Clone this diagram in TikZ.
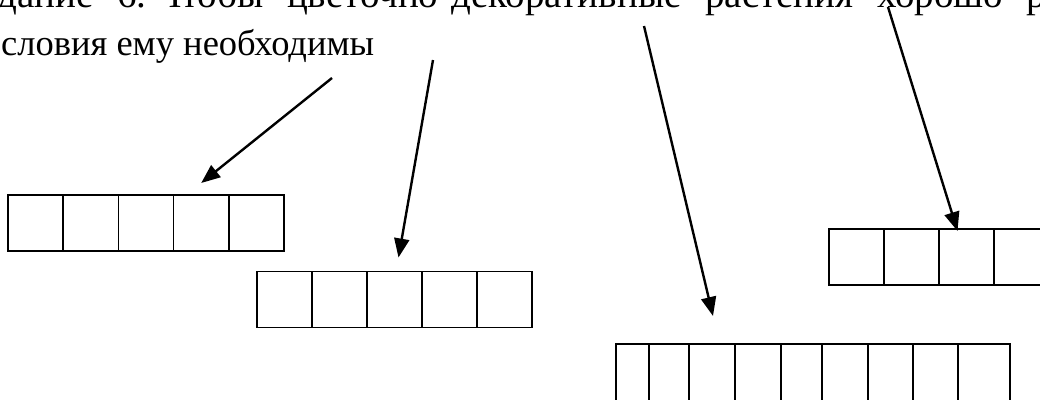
\documentclass[tikz,border=0pt]{standalone}
\usepackage{fontspec}
\setmainfont{Liberation Serif}
\usetikzlibrary{arrows.meta,positioning}

\begin{document}
\begin{tikzpicture}[
    x=1pt, y=-1pt,
    cell/.style={draw, line width=1.3pt, minimum width=55pt, minimum height=56pt, inner sep=0pt, outer sep=0pt},
    line/.style={font=\fontsize{36.5}{44}\selectfont, inner sep=0pt, anchor=base west},
    arrow/.style={-{Triangle[length=19pt, width=15pt]}, line width=2.4pt}
]
\useasboundingbox (0,0) rectangle (1040,399);
\clip (0,0) rectangle (1040,399);
% text
\node[line, font=\fontsize{39}{46}\selectfont] (ln1) at (-3,7) {\frenchspacing\makebox[1049pt][s]{дание 6.\mbox{ }Чтобы цветочно-декоративные растения хорошо р}};
\node[line] (ln2) at (1,55) {словия ему необходимы};
% cells
\foreach \i in {1,...,5}
    \node[cell] (a\i) at ({8+55.2*(\i-0.5)},223) {};
\foreach \i in {1,...,5}
    \node[cell] (b\i) at ({257+55*(\i-0.5)},299.5) {};
\foreach \i in {1,...,4}
    \node[cell] (c\i) at ({829+55*(\i-0.5)},257) {};
\foreach \l/\r [count=\i] in {616/649,649/689,689/735,735/781,781/822,822/868,868/913,913/958,958/1010}
    \node[cell, minimum width={(\r-\l)*1pt}, minimum height=70pt] (d\i) at ({(\l+\r)/2},379) {};
% arrows
\coordinate (s1) at (332,78);
\coordinate (s2) at (433,60);
\coordinate (s3) at (644,26);
\coordinate (s4) at (888,7);
\draw[arrow] (s1) -- ([yshift=12pt]a4.north);
\draw[arrow] (s2) -- ([xshift=4pt, yshift=14pt]b3.north);
\draw[arrow] (s3) -- ([xshift=1pt, yshift=28pt]d3.north);
\draw[arrow] (s4) -- ([xshift=-9pt, yshift=-2pt]c3.north);
\end{tikzpicture}
\end{document}
